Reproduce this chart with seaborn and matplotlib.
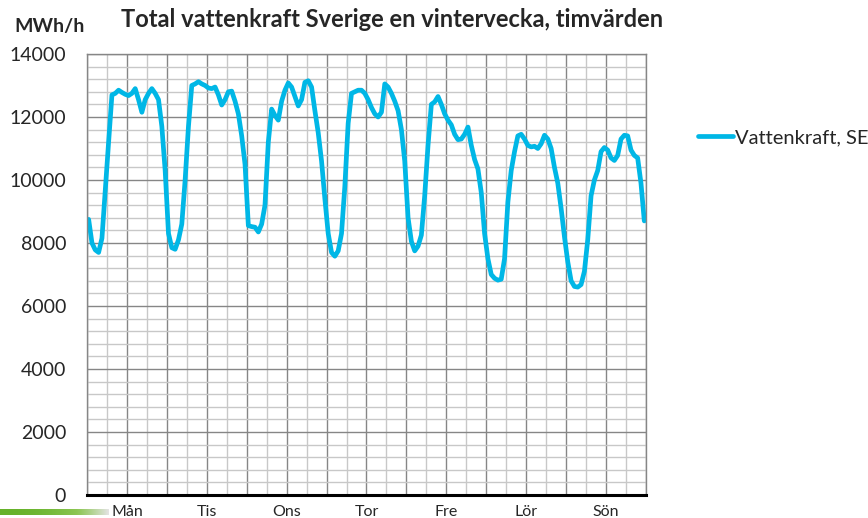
import numpy as np
import pandas as pd
import matplotlib.pyplot as plt
import seaborn as sns
from matplotlib.colors import LinearSegmentedColormap
from matplotlib.ticker import MultipleLocator, FixedLocator

sns.set_theme(style="white")
plt.rcParams["font.family"] = ["Lato", "DejaVu Sans"]

# timvärden, MWh/h, mån 00 -> sön 23
man = [8750, 8000, 7780, 7700, 8150, 9700, 11200, 12700, 12750, 12850, 12780, 12720,
       12680, 12750, 12900, 12550, 12150, 12550, 12750, 12900, 12750, 12550, 11700, 10300]
tis = [8300, 7850, 7800, 8100, 8600, 10000, 11700, 13000, 13050, 13120, 13050, 13000,
       12920, 12900, 12950, 12700, 12380, 12550, 12800, 12820, 12500, 12100, 11400, 10500]
ons = [8550, 8520, 8500, 8350, 8600, 9200, 11200, 12250, 12050, 11900, 12500, 12850,
       13080, 12950, 12650, 12350, 12550, 13100, 13150, 12950, 12200, 11500, 10600, 9400]
tor = [8300, 7700, 7580, 7750, 8300, 9800, 11800, 12750, 12800, 12850, 12850, 12750,
       12550, 12300, 12100, 12000, 12150, 13050, 12950, 12750, 12500, 12200, 11600, 10600]
fre = [8800, 8050, 7750, 7900, 8250, 9500, 11100, 12400, 12480, 12650, 12400, 12100,
       11900, 11750, 11450, 11280, 11300, 11450, 11680, 11100, 10650, 10350, 9600, 8300]
lor = [7500, 7000, 6880, 6820, 6850, 7500, 9300, 10300, 10900, 11400, 11450, 11300,
       11100, 11050, 11070, 11000, 11150, 11420, 11300, 11000, 10400, 9900, 9100, 8200]
son = [7400, 6800, 6620, 6600, 6680, 7100, 8100, 9500, 10000, 10300, 10900, 11030,
       10950, 10700, 10620, 10780, 11300, 11420, 11400, 10950, 10780, 10700, 9900, 8700]

dagar = ["Mån", "Tis", "Ons", "Tor", "Fre", "Lör", "Sön"]

values = man + tis + ons + tor + fre + lor + son
df = pd.DataFrame({"timme": np.arange(len(values)), "MWh": values})

fig = plt.figure(figsize=(8.68, 5.18), dpi=100)
ax = fig.add_axes([0.1002, 0.0444, 0.644, 0.8514])

# rutnät
ax.xaxis.set_major_locator(FixedLocator(np.arange(-0.5, 168, 12)))
ax.xaxis.set_minor_locator(FixedLocator(np.arange(5.5, 168, 12)))
ax.yaxis.set_major_locator(MultipleLocator(2000))
ax.yaxis.set_minor_locator(MultipleLocator(400))
ax.grid(which="major", color="#868686", linewidth=1.0)
ax.grid(which="minor", color="#c8c8c8", linewidth=1.0)
ax.set_axisbelow(True)

sns.lineplot(data=df, x="timme", y="MWh", ax=ax, color="#00B7E6",
             linewidth=3.4, label="Vattenkraft, SE")

ax.set_xlim(-0.5, 167.5)
ax.set_ylim(0, 14000)
ax.set_xlabel("")
ax.set_ylabel("")
ax.tick_params(axis="x", which="both", length=0, labelbottom=False)
ax.tick_params(axis="y", which="both", length=0, pad=15, labelsize=14)

# dagnamn mitt under varje dygn
for k, d in enumerate(dagar):
    ax.text(11.5 + 24 * k, -330, d, ha="center", va="top", fontsize=11.5)

for s in ["top", "right", "left"]:
    ax.spines[s].set_color("#868686")
    ax.spines[s].set_linewidth(1.0)
ax.spines["bottom"].set_color("black")
ax.spines["bottom"].set_linewidth(2.2)

ax.legend(loc="center left", bbox_to_anchor=(1.078, 0.81), frameon=False,
          fontsize=14.5, handlelength=1.75, handletextpad=0.12, borderaxespad=0)

fig.text(0.452, 0.962, "Total vattenkraft Sverige en vintervecka, timvärden",
         ha="center", va="center", fontsize=17, fontweight="bold")
fig.text(0.057, 0.948, "MWh/h", ha="center", va="center", fontsize=14,
         fontweight="bold")

# grön dekorlinje nere till vänster
deco = fig.add_axes([0.0, 0.006, 0.125, 0.011])
grad = np.linspace(0, 1, 200)[None, :] ** 2
cmap = LinearSegmentedColormap.from_list("swoosh", ["#66b22a", "#8cc652", "#e4e4e4"])
deco.imshow(grad, aspect="auto", cmap=cmap)
deco.set_axis_off()

fig.savefig("out.png", dpi=100)
